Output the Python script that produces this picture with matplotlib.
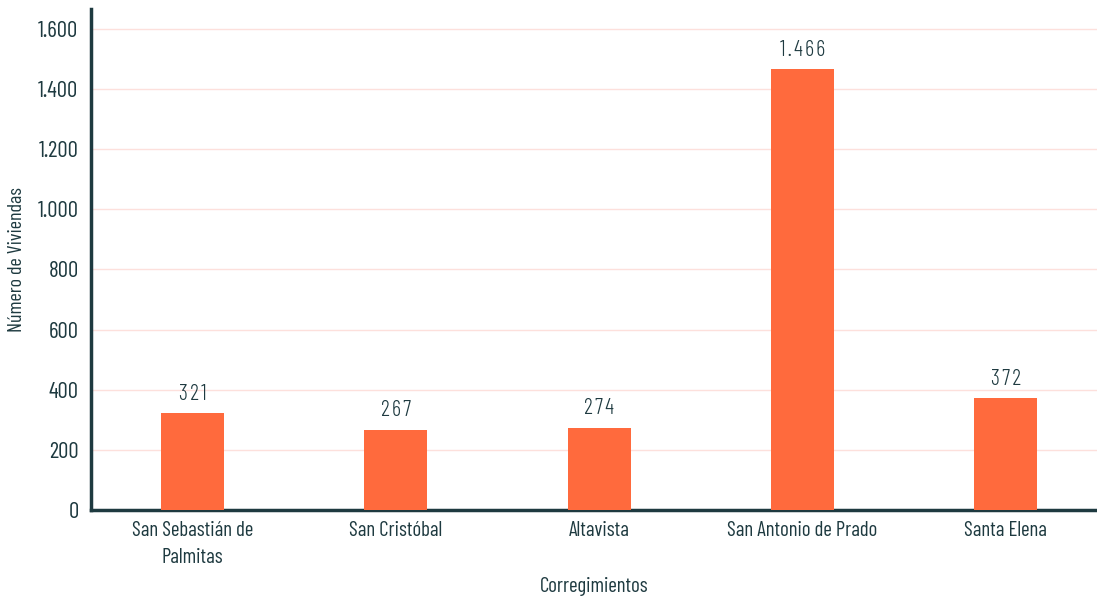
import matplotlib
matplotlib.use("Agg")
import matplotlib.pyplot as plt
from matplotlib import font_manager

categories = ["San Sebastián de\nPalmitas", "San Cristóbal", "Altavista",
              "San Antonio de Prado", "Santa Elena"]
values = [321, 267, 274, 1466, 372]
yticks = [0, 200, 400, 600, 800, 1000, 1200, 1400, 1600]
ytick_labels = ["0", "200", "400", "600", "800", "1.000", "1.200", "1.400", "1.600"]
bar_labels = ["321", "267", "274", "1.466", "372"]

names = {f.name for f in font_manager.fontManager.ttflist}
fam = "DejaVu Sans"
for cand in ["Barlow Condensed", "Barlow Semi Condensed", "Roboto Condensed",
             "Saira Condensed", "Oswald", "Open Sans Condensed", "Abel"]:
    if cand in names:
        fam = cand
        break
plt.rcParams["font.family"] = [fam, "DejaVu Sans"]

text_c = "#1E3A40"
bar_c = "#FF6A3D"
grid_c = "#FDE0DC"

fig = plt.figure(figsize=(10.97, 5.96), dpi=100)
ax = fig.add_axes([91/1097, 1 - 510/596, (1097 - 91)/1097, (510 - 9)/596])

x = list(range(len(categories)))
ax.bar(x, values, width=0.31, color=bar_c, zorder=3)
for xi, v, lab in zip(x, values, bar_labels):
    spaced = "\u200a".join(lab)
    ax.annotate(spaced, (xi, v), xytext=(0, 6), textcoords="offset points",
                ha="center", va="bottom", fontsize=16, color=text_c,
                fontweight=300)

ax.set_xlim(-0.5, 4.45)
ax.set_ylim(0, 1666)
ax.set_yticks(yticks)
ax.set_yticklabels(ytick_labels)
ax.set_xticks(x)
ax.set_xticklabels(categories, linespacing=1.55)
ax.tick_params(axis="x", length=0, labelsize=15, labelcolor=text_c, pad=8)
ax.tick_params(axis="y", length=0, labelsize=16.5, labelcolor=text_c, pad=9)
for t in ax.get_yticklabels():
    t.set_verticalalignment("center_baseline")
ax.grid(axis="y", color=grid_c, linewidth=1, zorder=0)
for s in ["top", "right"]:
    ax.spines[s].set_visible(False)
for s in ["left", "bottom"]:
    ax.spines[s].set_color(text_c)
    ax.spines[s].set_linewidth(2.5)
ax.set_xlabel("Corregimientos", fontsize=15, color=text_c, labelpad=7)
ax.set_ylabel("Número de Viviendas", fontsize=14.5, color=text_c, labelpad=8)

fig.savefig("out.png", dpi=100)
